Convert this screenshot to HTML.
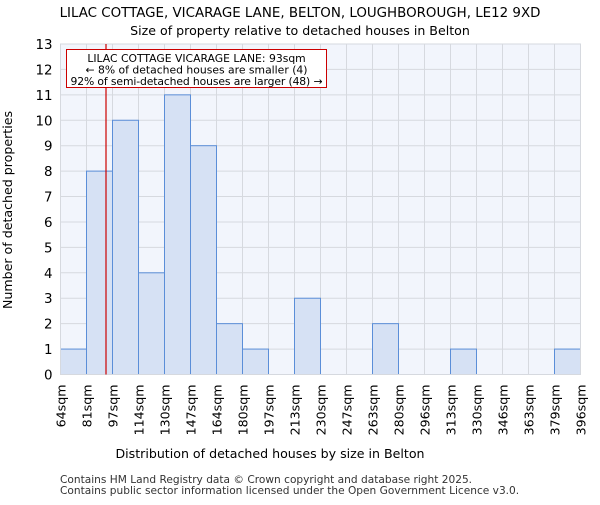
<!DOCTYPE html>
<html><head><meta charset="utf-8"><style>
body{margin:0;background:#fff;font-family:"Liberation Sans","DejaVu Sans",sans-serif}
</style></head><body>
<svg width="600" height="500" xmlns="http://www.w3.org/2000/svg" font-family="DejaVu Sans, Liberation Sans, sans-serif">
<text x="300" y="17" text-anchor="middle" font-size="13.4">LILAC COTTAGE, VICARAGE LANE, BELTON, LOUGHBOROUGH, LE12 9XD</text>
<text x="300" y="35" text-anchor="middle" font-size="12.6">Size of property relative to detached houses in Belton</text>
<g id="plot"></g>
<text x="270" y="458" text-anchor="middle" font-size="12.6">Distribution of detached houses by size in Belton</text>
<text transform="translate(12,210) rotate(-90)" text-anchor="middle" font-size="12.6">Number of detached properties</text>
<text x="60" y="483" font-size="10.6" fill="#333">Contains HM Land Registry data © Crown copyright and database right 2025.</text>
<text x="60" y="494" font-size="10.6" fill="#333">Contains public sector information licensed under the Open Government Licence v3.0.</text>
</svg>
<script>
const categories=["64sqm","81sqm","97sqm","114sqm","130sqm","147sqm","164sqm","180sqm","197sqm","213sqm","230sqm","247sqm","263sqm","280sqm","296sqm","313sqm","330sqm","346sqm","363sqm","379sqm","396sqm"];
const values=[1,8,10,4,11,9,2,1,0,3,0,0,2,0,0,1,0,0,0,1];
const yTicks=[0,1,2,3,4,5,6,7,8,9,10,11,12,13];
const binEdges=[64,81,97,114,130,147,164,180,197,213,230,247,263,280,296,313,330,346,363,379,396];
const propertySize=[93];
const L=60.5,R=580.5,T=44,B=374.5,yMax=13;
const ns="http://www.w3.org/2000/svg";
const g=document.getElementById('plot');
const n=values.length;
const xs=i=>L+(R-L)*i/n;
const ys=v=>B-(B-T)*v/yMax;
function xVal(v){let i=0;while(i<binEdges.length-2&&v>binEdges[i+1])i++;return xs(i)+(v-binEdges[i])/(binEdges[i+1]-binEdges[i])*(xs(i+1)-xs(i));}
function el(t,a){const e=document.createElementNS(ns,t);for(const k in a)e.setAttribute(k,a[k]);g.appendChild(e);return e;}
const bg=el('rect',{x:L,y:T,width:R-L,height:B-T,fill:'#f2f5fc'});


yTicks.forEach(t=>{const l=el('line',{x1:L,x2:R,y1:ys(t),y2:ys(t),stroke:'#d6d9df','stroke-width':1});


const tx=el('text',{x:L-8,y:ys(t)+5,'text-anchor':'end','font-size':13.4});tx.textContent=t;

});
categories.forEach((c,i)=>{const l=el('line',{x1:xs(i),x2:xs(i),y1:T,y2:B,stroke:'#d6d9df','stroke-width':1});


const tx=el('text',{transform:`translate(${xs(i)+5},${B+10}) rotate(-90)`,'text-anchor':'end','font-size':12.6});tx.textContent=c;

});
values.forEach((v,i)=>{if(v<=0)return;const r=el('rect',{x:xs(i),y:ys(v),width:xs(i+1)-xs(i),height:B-ys(v),fill:'#d6e1f4',stroke:'#5b8ed8','stroke-width':1});

});
const ax=el('rect',{x:L,y:T,width:R-L,height:B-T,fill:'none',stroke:'#d6d9df'});


const px=xVal(propertySize[0]);
const ml=el('line',{x1:px,x2:px,y1:T,y2:B,stroke:'#cc0000','stroke-width':1.2});


const box=el('rect',{x:66.5,y:49.5,width:260,height:38,fill:'#fff',stroke:'#cc0000','stroke-width':1});


["LILAC COTTAGE VICARAGE LANE: 93sqm","← 8% of detached houses are smaller (4)","92% of semi-detached houses are larger (48) →"].forEach((s,i)=>{const t=el('text',{x:196.5,y:62+i*11.5,'text-anchor':'middle','font-size':10.8,'textLength':i==2?252:null});if(i!=2)t.removeAttribute('textLength');t.textContent=s;

});
</script>
</body></html>
